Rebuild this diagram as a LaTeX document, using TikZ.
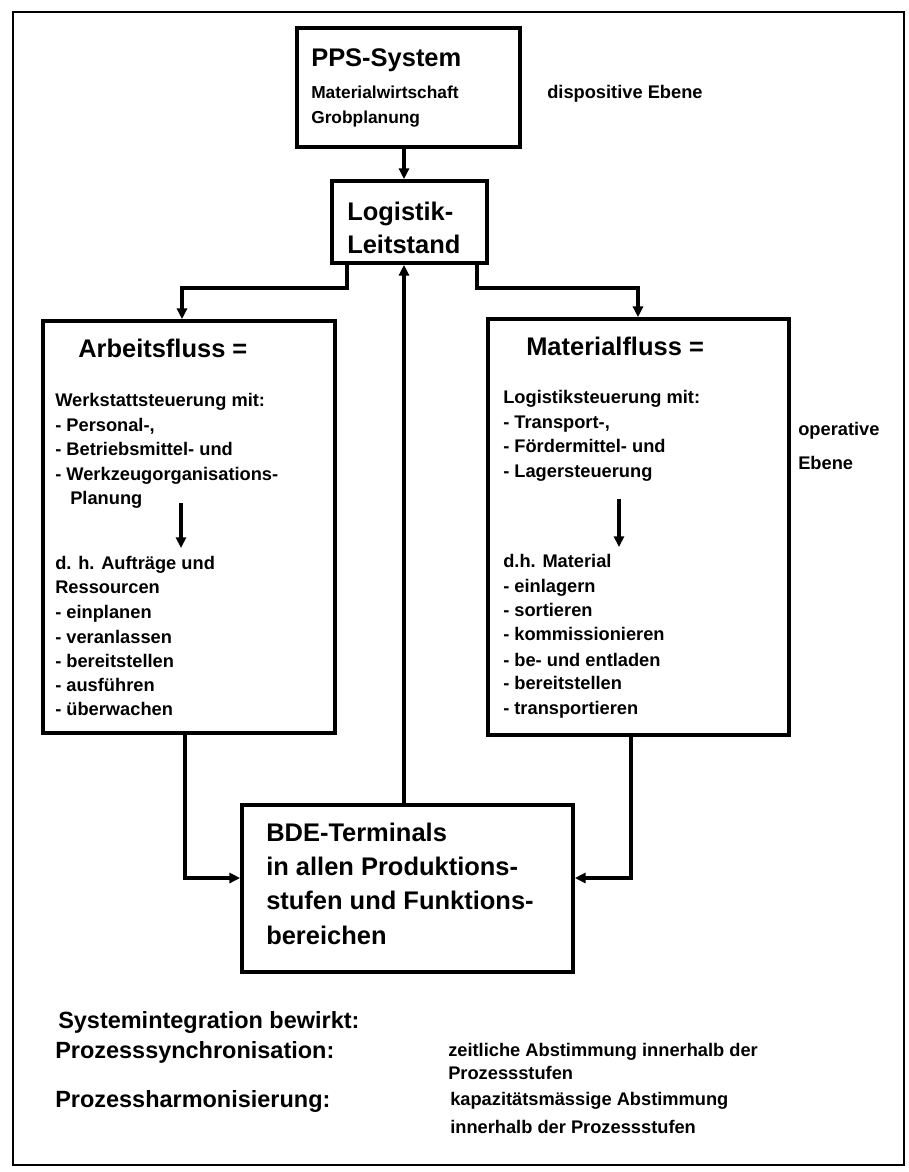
\documentclass[tikz,border=0pt]{standalone}
\usepackage{fontspec}
\setmainfont{Liberation Sans}
\usetikzlibrary{fit,arrows.meta}
\begin{document}
\begin{tikzpicture}[x=0.75pt,y=-0.75pt,
  box/.style={draw, line width=2.8pt, inner sep=0pt},
  conn/.style={line width=2.6pt},
  arr/.style={conn, -{Triangle[length=8pt,width=7.5pt]}},
  big/.style={anchor=base west, inner sep=0pt, font=\fontsize{19.1}{22}\selectfont\bfseries},
  med/.style={anchor=base west, inner sep=0pt, font=\fontsize{13.7}{16}\selectfont\bfseries},
  sml/.style={anchor=base west, inner sep=0pt, font=\fontsize{13}{15}\selectfont\bfseries},
  bot/.style={anchor=base west, inner sep=0pt, font=\fontsize{17.6}{20}\selectfont\bfseries}]
\useasboundingbox (0,0) rectangle (909,1172);
\node[draw, line width=2pt, inner sep=0pt, fit={(13,12)(904,1165)}] (frame) {};
% boxes
\node[box, fit={(297,28)(520,147)}] (pps) {};
\node[box, fit={(332,181)(487,263)}] (log) {};
\node[box, fit={(43,321)(335,733)}] (arb) {};
\node[box, fit={(488,319)(789,735)}] (mat) {};
\node[box, fit={(242,805)(573,972)}] (bde) {};
% PPS
\node[big] (t1) at (311,66) {PPS-System};
\node[sml] (t2) at (311,98) {Materialwirtschaft};
\node[sml] (t3) at (311,123) {Grobplanung};
\node[med] (t4) at (547,98) {dispositive Ebene};
% Logistik
\node[big] (t5) at (347,220) {Logistik-};
\node[big] (t6) at (347,253) {Leitstand};
% Arbeitsfluss
\node[big] (t7) at (78,357) {Arbeitsfluss =};
\node[med] (a1) at (55,406) {Werkstattsteuerung mit:};
\node[med] (a2) at (55,431) {- Personal-,};
\node[med] (a3) at (55,455) {- Betriebsmittel- und};
\node[med] (a4) at (55,480) {- Werkzeugorganisations-};
\node[med] (a5) at (70,504) {Planung};
\node[med] (a6) at (55,569) {d. h. Aufträge und};
\node[med] (a7) at (55,593) {Ressourcen};
\node[med] (a8) at (55,618) {- einplanen};
\node[med] (a9) at (55,643) {- veranlassen};
\node[med] (a10) at (55,667) {- bereitstellen};
\node[med] (a11) at (55,691) {- ausführen};
\node[med] (a12) at (55,715) {- überwachen};
% Materialfluss
\node[big] (t8) at (526,355) {Materialfluss =};
\node[med] (m1) at (503,403) {Logistiksteuerung mit:};
\node[med] (m2) at (503,428) {- Transport-,};
\node[med] (m3) at (503,452) {- Fördermittel- und};
\node[med] (m4) at (503,477) {- Lagersteuerung};
\node[med] (m5) at (503,567) {d.h. Material};
\node[med] (m6) at (503,592) {- einlagern};
\node[med] (m7) at (503,616) {- sortieren};
\node[med] (m8) at (503,640) {- kommissionieren};
\node[med] (m9) at (503,666) {- be- und entladen};
\node[med] (m10) at (503,689) {- bereitstellen};
\node[med] (m11) at (503,714) {- transportieren};
\node[med] (o1) at (798,435) {operative};
\node[med] (o2) at (798,469) {Ebene};
% BDE
\node[big] (b1) at (266,841) {BDE-Terminals};
\node[big] (b2) at (266,875) {in allen Produktions-};
\node[big] (b3) at (266,909) {stufen und Funktions-};
\node[big] (b4) at (266,944) {bereichen};
% bottom
\node[bot] (s1) at (58,1028) {Systemintegration bewirkt:};
\node[bot] (s2) at (55,1058) {Prozesssynchronisation:};
\node[bot] (s3) at (55,1107) {Prozessharmonisierung:};
\node[med] (r1) at (448,1056) {zeitliche Abstimmung innerhalb der};
\node[med] (r2) at (448,1079) {Prozessstufen};
\node[med] (r3) at (450,1105) {kapazitätsmässige Abstimmung};
\node[med] (r4) at (450,1133) {innerhalb der Prozessstufen};
% connectors
\draw[arr] (404,0 |- pps.south) -- (404,0 |- log.north);
\draw[arr] (347,0 |- log.south) |- (182,288) -- (182,0 |- arb.north);
\draw[arr] (477,0 |- log.south) |- (638,288) -- (638,0 |- mat.north);
\draw[arr] (404,0 |- bde.north) -- (404,0 |- log.south);
\draw[arr] (185,0 |- arb.south) |- (bde.west |- 0,878);
\draw[arr] (631,0 |- mat.south) |- (bde.east |- 0,878);
\coordinate (ia) at (181,503);
\coordinate (ib) at (181,548);
\coordinate (ic) at (619,499);
\coordinate (id) at (619,547);
\draw[arr] (ia) -- (ib);
\draw[arr] (ic) -- (id);
\end{tikzpicture}
\end{document}
